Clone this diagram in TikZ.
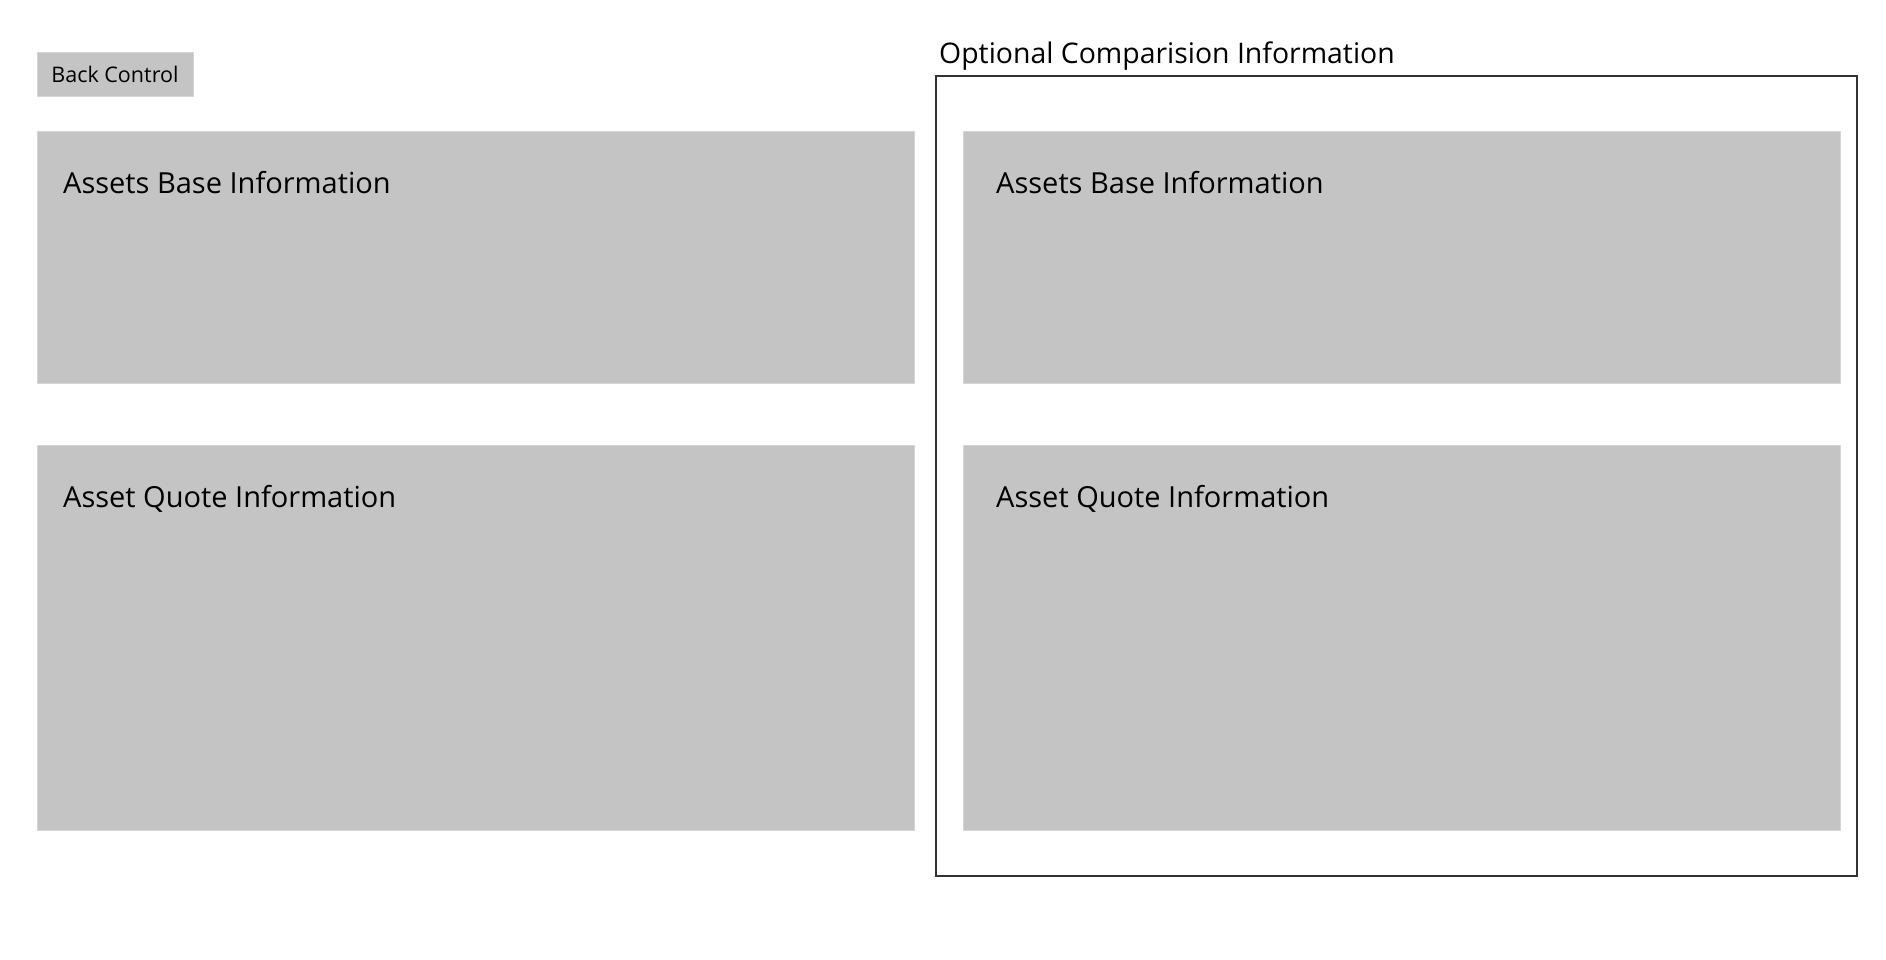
\documentclass[tikz,border=0pt]{standalone}
\usepackage{fontspec}
\setmainfont{Open Sans}
\usetikzlibrary{positioning}
\definecolor{panelgray}{HTML}{C4C4C4}
\definecolor{panelrim}{HTML}{D6D6D6}
\definecolor{framegray}{HTML}{333333}
\begin{document}
\begin{tikzpicture}[x=1pt,y=-1pt,
    panel/.style={fill=panelgray,draw=panelrim,line width=0.8pt,anchor=north west,inner sep=0pt},
    paneltitle/.style={anchor=base west,inner sep=0pt,font=\fontsize{29}{32}\selectfont}]
    \useasboundingbox (0,0) rectangle (1886,959);
    %% back control
    \node[fill=panelgray,draw=panelrim,line width=0.8pt,inner sep=0pt,minimum width=156pt,minimum height=44pt,
        font=\fontsize{21.5}{24}\selectfont] (back) at (115,74.5) {Back Control};
    %% left column
    \node[panel,minimum width=877pt,minimum height=252pt] (leftbase) at (37,131) {};
    \node[panel,minimum width=877pt,minimum height=385pt] (leftquote) at (37,445) {};
    \node[paneltitle] (leftbasetxt) at ([shift={(26,62)}]leftbase.north west) {Assets Base Information};
    \node[paneltitle] (leftquotetxt) at ([shift={(26,62)}]leftquote.north west) {Asset Quote Information};
    %% right column, optional comparison
    \draw[framegray,line width=1.4pt] (936,76) rectangle (1857,876);
    \node[anchor=base west,inner sep=0pt,font=\fontsize{28.4}{32}\selectfont] (cmptitle) at (939,63) {Optional Comparision Information};
    \node[panel,minimum width=877pt,minimum height=252pt] (rightbase) at (963,131) {};
    \node[panel,minimum width=877pt,minimum height=385pt] (rightquote) at (963,445) {};
    \node[paneltitle] (rightbasetxt) at ([shift={(33,62)}]rightbase.north west) {Assets Base Information};
    \node[paneltitle] (rightquotetxt) at ([shift={(33,62)}]rightquote.north west) {Asset Quote Information};
\end{tikzpicture}
\end{document}
